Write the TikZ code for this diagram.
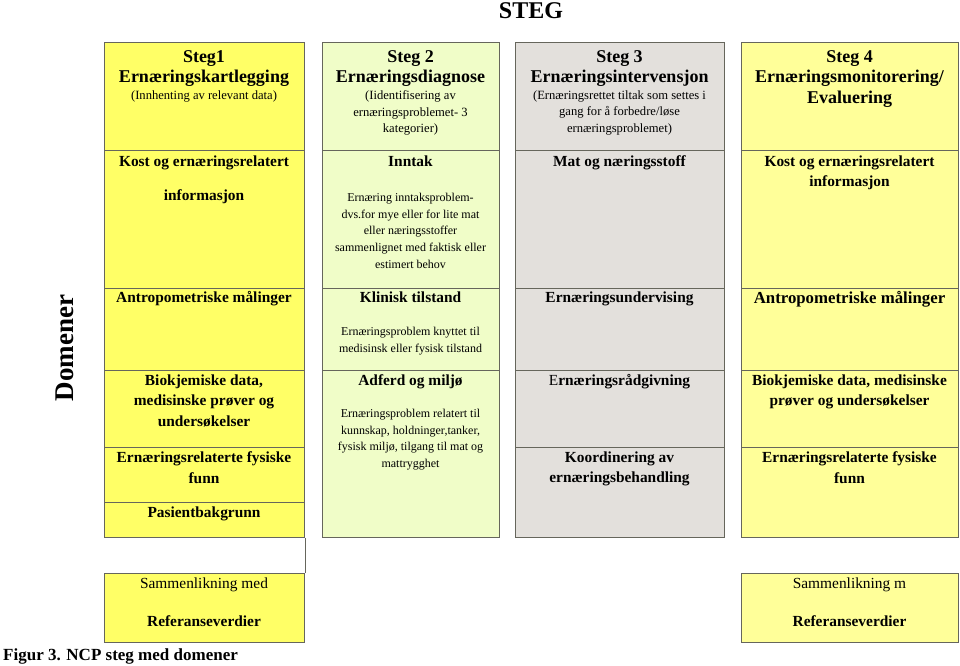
\documentclass[tikz,border=0pt]{standalone}
\usepackage{fontspec}
\setmainfont{Liberation Serif}
\definecolor{stegone}{HTML}{FFFF66}
\definecolor{stegtwo}{HTML}{F0FDC8}
\definecolor{stegthree}{HTML}{E3E0DC}
\definecolor{stegfour}{HTML}{FFFF99}
\definecolor{cellline}{HTML}{66665C}
\begin{document}
\begin{tikzpicture}[x=1pt, y=-1pt,
                        cell/.style={draw=cellline, line width=1.1pt, anchor=north west, inner sep=0pt},
                        colone/.style={cell, fill=stegone, minimum width=200pt},
                        coltwo/.style={cell, fill=stegtwo, minimum width=177pt},
                        colthree/.style={cell, fill=stegthree, minimum width=209pt},
                        colfour/.style={cell, fill=stegfour, minimum width=217pt},
                        txt/.style={anchor=north, inner sep=0pt, align=center},
                        head/.style={txt, font=\fontsize{18}{20.8}\selectfont\bfseries},
                        sub/.style={txt, font=\fontsize{12.6}{16.6}\selectfont},
                        dom/.style={txt, font=\fontsize{15.4}{20.5}\selectfont\bfseries},
                        small/.style={txt, font=\fontsize{12}{16.7}\selectfont},
                        link/.style={draw=cellline, line width=0.8pt}]
                        \useasboundingbox (0,0) rectangle (960,665);

                        % Define cells
                        \node[colone, minimum height=108pt] (c1a) at (104,42) {}; % Steg 1
                        \node[colone, minimum height=138pt] (c1b) at (104,150) {};
                        \node[colone, minimum height=82pt] (c1c) at (104,288) {};
                        \node[colone, minimum height=77pt] (c1d) at (104,370) {};
                        \node[colone, minimum height=55pt] (c1e) at (104,447) {};
                        \node[colone, minimum height=35pt] (c1f) at (104,502) {};
                        \node[coltwo, minimum height=108pt] (c2a) at (322,42) {}; % Steg 2
                        \node[coltwo, minimum height=138pt] (c2b) at (322,150) {};
                        \node[coltwo, minimum height=82pt] (c2c) at (322,288) {};
                        \node[coltwo, minimum height=167pt] (c2d) at (322,370) {};
                        \node[colthree, minimum height=108pt] (c3a) at (515,42) {}; % Steg 3
                        \node[colthree, minimum height=138pt] (c3b) at (515,150) {};
                        \node[colthree, minimum height=82pt] (c3c) at (515,288) {};
                        \node[colthree, minimum height=77pt] (c3d) at (515,370) {};
                        \node[colthree, minimum height=90pt] (c3e) at (515,447) {};
                        \node[colfour, minimum height=108pt] (c4a) at (741,42) {}; % Steg 4
                        \node[colfour, minimum height=138pt] (c4b) at (741,150) {};
                        \node[colfour, minimum height=82pt] (c4c) at (741,288) {};
                        \node[colfour, minimum height=77pt] (c4d) at (741,370) {};
                        \node[colfour, minimum height=90pt] (c4e) at (741,447) {};
                        \node[colone, minimum height=69pt] (ref1) at (104,573) {}; % Referanse
                        \node[colfour, minimum height=69pt] (ref4) at (741,573) {};

                        % Define texts
                        \node[anchor=base, font=\fontsize{24}{28}\selectfont\bfseries] (title) at (531,18.5) {STEG};
                        \node[anchor=base, rotate=90, font=\fontsize{27}{32}\selectfont\bfseries] (domener) at (73.3,348) {Domener};
                        \node[anchor=base west, inner sep=0pt, font=\fontsize{17}{20}\selectfont\bfseries] (figur) at (3,660) {Figur 3. NCP steg med domener};

                        \node[head] (h1) at (204,50) {Steg1\\Ernæringskartlegging};
                        \node[sub] (s1) at (204,90.4) {(Innhenting av relevant data)};
                        \node[head] (h2) at (410.5,50) {Steg 2\\Ernæringsdiagnose};
                        \node[sub] (s2) at (410.5,90.4) {(Iidentifisering av\\ernæringsproblemet- 3\\kategorier)};
                        \node[head] (h3) at (619.5,50) {Steg 3\\Ernæringsintervensjon};
                        \node[sub] (s3) at (619.5,90.4) {(Ernæringsrettet tiltak som settes i\\gang for å forbedre/løse\\ernæringsproblemet)};
                        \node[head] (h4) at (849.5,50) {Steg 4\\Ernæringsmonitorering/\\Evaluering};

                        \node[dom] (t1b) at (204,155.5) {Kost og ernæringsrelatert\\[14pt]informasjon};
                        \node[dom] (t1c) at (204,291.5) {Antropometriske målinger};
                        \node[dom] (t1d) at (204,374.5) {Biokjemiske data,\\medisinske prøver og\\undersøkelser};
                        \node[dom] (t1e) at (204,451.5) {Ernæringsrelaterte fysiske\\funn};
                        \node[dom] (t1f) at (204,506.5) {Pasientbakgrunn};

                        \node[dom] (t2b) at (410.5,155.5) {Inntak};
                        \node[small] (d2b) at (410.5,192.8) {Ernæring inntaksproblem-\\dvs.for mye eller for lite mat\\eller næringsstoffer\\sammenlignet med faktisk eller\\estimert behov};
                        \node[dom] (t2c) at (410.5,291.5) {Klinisk tilstand};
                        \node[small] (d2c) at (410.5,326.8) {Ernæringsproblem knyttet til\\medisinsk eller fysisk tilstand};
                        \node[dom] (t2d) at (410.5,374.5) {Adferd og miljø};
                        \node[small] (d2d) at (410.5,408.8) {Ernæringsproblem relatert til\\kunnskap, holdninger,tanker,\\fysisk miljø, tilgang til mat og\\mattrygghet};

                        \node[dom] (t3b) at (619.5,155.5) {Mat og næringsstoff};
                        \node[dom] (t3c) at (619.5,291.5) {Ernæringsundervising};
                        \node[dom] (t3d) at (619.5,374.5) {{\mdseries E}rnæringsrådgivning};
                        \node[dom] (t3e) at (619.5,451.5) {Koordinering av\\ernæringsbehandling};

                        \node[dom] (t4b) at (849.5,155.5) {Kost og ernæringsrelatert\\informasjon};
                        \node[dom, font=\fontsize{16.8}{20.5}\selectfont\bfseries] (t4c) at (849.5,291.6) {Antropometriske målinger};
                        \node[dom] (t4d) at (849.5,374.5) {Biokjemiske data, medisinske\\prøver og undersøkelser};
                        \node[dom] (t4e) at (849.5,451.5) {Ernæringsrelaterte fysiske\\funn};

                        \node[txt, font=\fontsize{15.4}{20.5}\selectfont] (r1) at (204,577.5) {Sammenlikning med\\[17.5pt]\textbf{Referanseverdier}};
                        \node[txt, font=\fontsize{15.4}{20.5}\selectfont] (r4) at (849.5,577.5) {Sammenlikning m\\[17.5pt]\textbf{Referanseverdier}};

                        % Define connector
                        \path [link] (c1f.south east) -- (ref1.north east);
                    \end{tikzpicture}
\end{document}
